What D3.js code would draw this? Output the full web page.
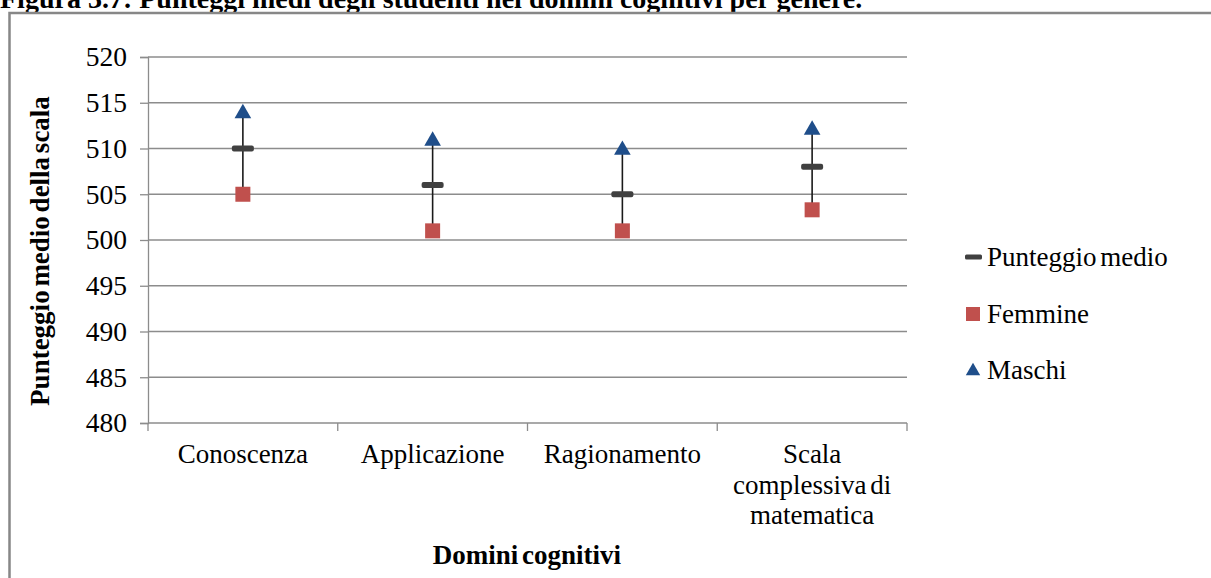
<!DOCTYPE html>
<meta charset="utf-8">
<style>
body { margin: 0; background: #fff; }
svg { display: block; font-family: "Liberation Serif", "Times New Roman", serif; }
</style>
<svg></svg>
<script src="https://d3js.org/d3.v7.min.js"></script>
<script>
var width = 1211
var height = 578

// data
var categories = ["Conoscenza", "Applicazione", "Ragionamento", "Scala complessiva di matematica"]
var categoryLines = [["Conoscenza"], ["Applicazione"], ["Ragionamento"], ["Scala", "complessiva di", "matematica"]]
var mediaValues = [510, 506, 505, 508]
var femmineValues = [505, 501, 501, 503.3]
var maschiValues = [514, 511, 510, 512.2]
var yTicks = [480, 485, 490, 495, 500, 505, 510, 515, 520]
var legendLabels = ["Punteggio medio", "Femmine", "Maschi"]

var svg = d3.select('svg')
  .attr('width', width)
  .attr('height', height)

// title, mostly cut off at the top of the picture (as in the source)
svg.append('text')
  .attr('x', 0)
  .attr('y', 8)
  .attr('font-size', 28)
  .attr('font-weight', 'bold')
  .text('Figura 3.7: Punteggi medi degli studenti nei domini cognitivi per genere.')

// chart frame
svg.append('rect')
  .attr('x', 9.5)
  .attr('y', 13)
  .attr('width', 1220)
  .attr('height', 600)
  .attr('fill', 'none')
  .attr('stroke', '#878787')
  .attr('stroke-width', 2.5)

var x = d3.scaleBand().domain(categories).range([148, 907])
var y = d3.scaleLinear().domain([480, 520]).range([423, 57])

var grey = '#8c8c8c'

// y axis
var yAxis = svg.append('g')
  .attr('transform', 'translate(148,0)')
  .call(d3.axisLeft(y).tickValues(yTicks).tickSize(8).tickPadding(13))
yAxis.select('.domain').attr('stroke', grey).attr('stroke-width', 1.3)
yAxis.selectAll('.tick line').attr('stroke', grey).attr('stroke-width', 1.3)
yAxis.selectAll('.tick text')
  .attr('font-family', '"Liberation Serif", serif')
  .attr('font-size', 27.5)
  .attr('fill', '#000')

// gridlines
svg.append('g').selectAll('line')
  .data(yTicks.filter(function (d) { return d > 480 }))
  .join('line')
  .attr('x1', 148).attr('x2', 907)
  .attr('y1', function (d) { return y(d) }).attr('y2', function (d) { return y(d) })
  .attr('stroke', grey)
  .attr('stroke-width', 1.3)

// x axis with ticks between categories
svg.append('line')
  .attr('x1', 148).attr('x2', 907)
  .attr('y1', y(480)).attr('y2', y(480))
  .attr('stroke', grey).attr('stroke-width', 1.3)

var bounds = categories.map(function (c) { return x(c) }).concat([x(categories[3]) + x.bandwidth()])
svg.append('g').selectAll('line')
  .data(bounds)
  .join('line')
  .attr('x1', function (d) { return d }).attr('x2', function (d) { return d })
  .attr('y1', y(480)).attr('y2', y(480) + 8)
  .attr('stroke', grey).attr('stroke-width', 1.3)

var labels = svg.append('g').selectAll('text')
  .data(categories)
  .join('text')
  .attr('text-anchor', 'middle')
  .attr('font-size', 27)
  .attr('word-spacing', -3)

labels.selectAll('tspan')
  .data(function (d, i) { return categoryLines[i].map(function (l) { return { c: d, t: l } }) })
  .join('tspan')
  .attr('x', function (d) { return x(d.c) + x.bandwidth() / 2 })
  .attr('y', function (d, j) { return 463 + j * 30.5 })
  .text(function (d) { return d.t })

// axis titles
svg.append('text')
  .attr('x', 527)
  .attr('y', 564)
  .attr('text-anchor', 'middle')
  .attr('font-size', 27)
  .attr('font-weight', 'bold')
  .attr('word-spacing', -3)
  .text('Domini cognitivi')

svg.append('text')
  .attr('transform', 'translate(49,251) rotate(-90)')
  .attr('text-anchor', 'middle')
  .attr('font-size', 27)
  .attr('font-weight', 'bold')
  .attr('word-spacing', -3)
  .text('Punteggio medio della scala')

// high-low lines
var cx = function (i) { return x(categories[i]) + x.bandwidth() / 2 }
svg.append('g').selectAll('line')
  .data(categories)
  .join('line')
  .attr('x1', function (d, i) { return cx(i) }).attr('x2', function (d, i) { return cx(i) })
  .attr('y1', function (d, i) { return y(maschiValues[i]) })
  .attr('y2', function (d, i) { return y(femmineValues[i]) })
  .attr('stroke', '#1a1a1a')
  .attr('stroke-width', 1.6)

var tri = d3.symbol().type(d3.symbolTriangle).size(120)

// markers
svg.append('g').selectAll('rect')
  .data(mediaValues)
  .join('rect')
  .attr('x', function (d, i) { return cx(i) - 11 })
  .attr('y', function (d) { return y(d) - 3 })
  .attr('width', 22).attr('height', 6).attr('rx', 2)
  .attr('fill', '#404040')

svg.append('g').selectAll('rect')
  .data(femmineValues)
  .join('rect')
  .attr('x', function (d, i) { return cx(i) - 7.5 })
  .attr('y', function (d) { return y(d) - 7.5 })
  .attr('width', 15).attr('height', 15)
  .attr('fill', '#c0504d')

svg.append('g').selectAll('path')
  .data(maschiValues)
  .join('path')
  .attr('d', tri)
  .attr('transform', function (d, i) { return 'translate(' + cx(i) + ',' + (y(d) + 1.5) + ')' })
  .attr('fill', '#1f4e8a')

// legend
var legend = svg.append('g').selectAll('g')
  .data(legendLabels)
  .join('g')
  .attr('transform', function (d, i) { return 'translate(965,' + (257 + i * 56.5) + ')' })

legend.append('text')
  .attr('x', 22)
  .attr('y', 9)
  .attr('font-size', 27)
  .attr('word-spacing', -3)
  .text(function (d) { return d })

legend.filter(function (d, i) { return i === 0 }).append('rect')
  .attr('x', 0).attr('y', -2.5).attr('width', 17).attr('height', 5).attr('rx', 1.5)
  .attr('fill', '#404040')
legend.filter(function (d, i) { return i === 1 }).append('rect')
  .attr('x', 1).attr('y', -6.5).attr('width', 14).attr('height', 14)
  .attr('fill', '#c0504d')
legend.filter(function (d, i) { return i === 2 }).append('path')
  .attr('d', d3.symbol().type(d3.symbolTriangle).size(90))
  .attr('transform', 'translate(8,1)')
  .attr('fill', '#1f4e8a')
</script>
